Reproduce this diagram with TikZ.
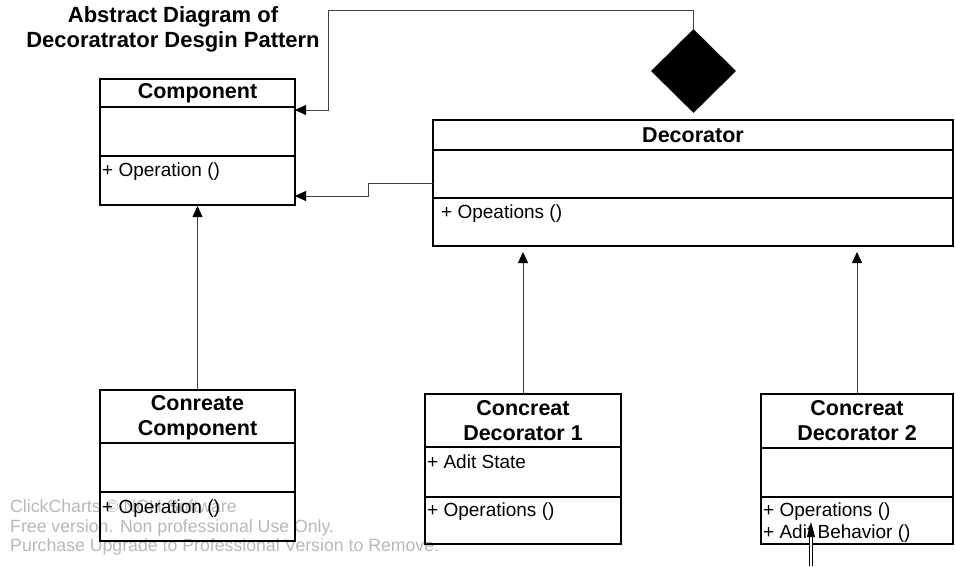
\documentclass[tikz,border=0pt]{standalone}
\usepackage{fontspec}
\setmainfont{Liberation Sans}
\usetikzlibrary{positioning, arrows.meta, shapes.geometric}

\begin{document}
\begin{tikzpicture}[
    x=1pt, y=-1pt,
    classbox/.style={rectangle, draw, line width=1.4pt, inner sep=0pt, outer sep=0pt},
    heading/.style={font=\bfseries\fontsize{21.5}{25}\selectfont, align=center},
    member/.style={anchor=base west, inner sep=0pt, xshift=2pt, font=\fontsize{19}{22}\selectfont},
    watermark/.style={anchor=north west, inner sep=0pt, align=left, text=black!28, font=\fontsize{17.7}{19.6}\selectfont},
    link/.style={draw=black!75, line width=0.8pt},
    tri/.style={link, -{Triangle[length=11pt, width=10pt, color=black]}}
]
\useasboundingbox (0,0) rectangle (956,566);

% Watermark (behind the boxes)
\node[watermark] (wm) at (10,499.5) {ClickCharts © NCH Software\\Free version. Non professional Use Only.\\Purchase Upgrade to Professional Version to Remove.};

% Title
\node[font=\bfseries\fontsize{22}{25}\selectfont, align=center] (title) at (173,29) {Abstract Diagram of\\Decoratrator Desgin Pattern};

% Component
\node[classbox, heading, minimum width=195pt, minimum height=28pt, anchor=north west] (comp) at (100,79) {Component};
\node[classbox, minimum width=195pt, minimum height=49pt, below=0pt of comp] (comp-attr) {};
\node[classbox, minimum width=195pt, minimum height=49pt, below=0pt of comp-attr] (comp-ops) {};
\node[member] (comp-op) at ([yshift=-20pt]comp-ops.north west) {+ Operation ()};

% Decorator
\node[classbox, heading, minimum width=520pt, minimum height=30pt, anchor=north west] (dec) at (433,120) {Decorator};
\node[classbox, minimum width=520pt, minimum height=48pt, below=0pt of dec] (dec-attr) {};
\node[classbox, minimum width=520pt, minimum height=48pt, below=0pt of dec-attr] (dec-ops) {};
\node[member, xshift=6pt] (dec-op) at ([yshift=-20pt]dec-ops.north west) {+ Opeations ()};

% Aggregation diamond
\node[diamond, fill=black, inner sep=0pt, minimum width=85pt, minimum height=84pt] (agg) at (693.5,71) {};

% Concrete component
\node[classbox, heading, minimum width=195pt, minimum height=53pt, anchor=north west, inner ysep=0pt, text depth=2pt] (concomp) at (100,390) {Conreate\\Component};
\node[classbox, minimum width=195pt, minimum height=49pt, below=0pt of concomp] (concomp-attr) {};
\node[classbox, minimum width=195pt, minimum height=49pt, below=0pt of concomp-attr] (concomp-ops) {};
\node[member] (concomp-op) at ([yshift=-21pt]concomp-ops.north west) {+ Operation ()};

% Concrete decorator 1
\node[classbox, heading, minimum width=196pt, minimum height=53pt, anchor=north west] (cdec1) at (425,394) {Concreat\\Decorator 1};
\node[classbox, minimum width=196pt, minimum height=50pt, below=0pt of cdec1] (cdec1-attr) {};
\node[classbox, minimum width=196pt, minimum height=47pt, below=0pt of cdec1-attr] (cdec1-ops) {};
\node[member] (cdec1-state) at ([yshift=-21pt]cdec1-attr.north west) {+ Adit State};
\node[member] (cdec1-op) at ([yshift=-19pt]cdec1-ops.north west) {+ Operations ()};

% Concrete decorator 2
\node[classbox, heading, minimum width=192pt, minimum height=54pt, anchor=north west] (cdec2) at (761,394) {Concreat\\Decorator 2};
\node[classbox, minimum width=192pt, minimum height=49pt, below=0pt of cdec2] (cdec2-attr) {};
\node[classbox, minimum width=192pt, minimum height=47pt, below=0pt of cdec2-attr] (cdec2-ops) {};
\node[member] (cdec2-op) at ([yshift=-19pt]cdec2-ops.north west) {+ Operations ()};
\node[member] (cdec2-beh) at ([yshift=-41pt]cdec2-ops.north west) {+ Adit Behavior ()};

% Connectors
\draw[tri] (agg.north) |- (328,10) -- (328,110) -- ([yshift=-3pt]comp.south east);
\draw[tri] ([yshift=-9pt]dec-attr.west) -| (368,196) -- ([yshift=-15.5pt]comp-ops.east);
\draw[tri, shorten >=1pt] (concomp.north) -- (comp-ops.south);
\draw[tri, shorten >=6pt] (cdec1.north) -- (dec-ops.south -| cdec1.north);
\draw[tri, shorten >=6pt] (cdec2.north) -- (dec-ops.south -| cdec2.north);

% Open arrow into Adit Behavior
\coordinate (adit-src) at (811,566);
\coordinate (adit-tip) at (811,522);
\draw[link, draw=black, double, double distance=1.8pt, line width=0.7pt, -{Triangle[length=15pt, width=8pt]}] (adit-src) -- (adit-tip);

\end{tikzpicture}
\end{document}
